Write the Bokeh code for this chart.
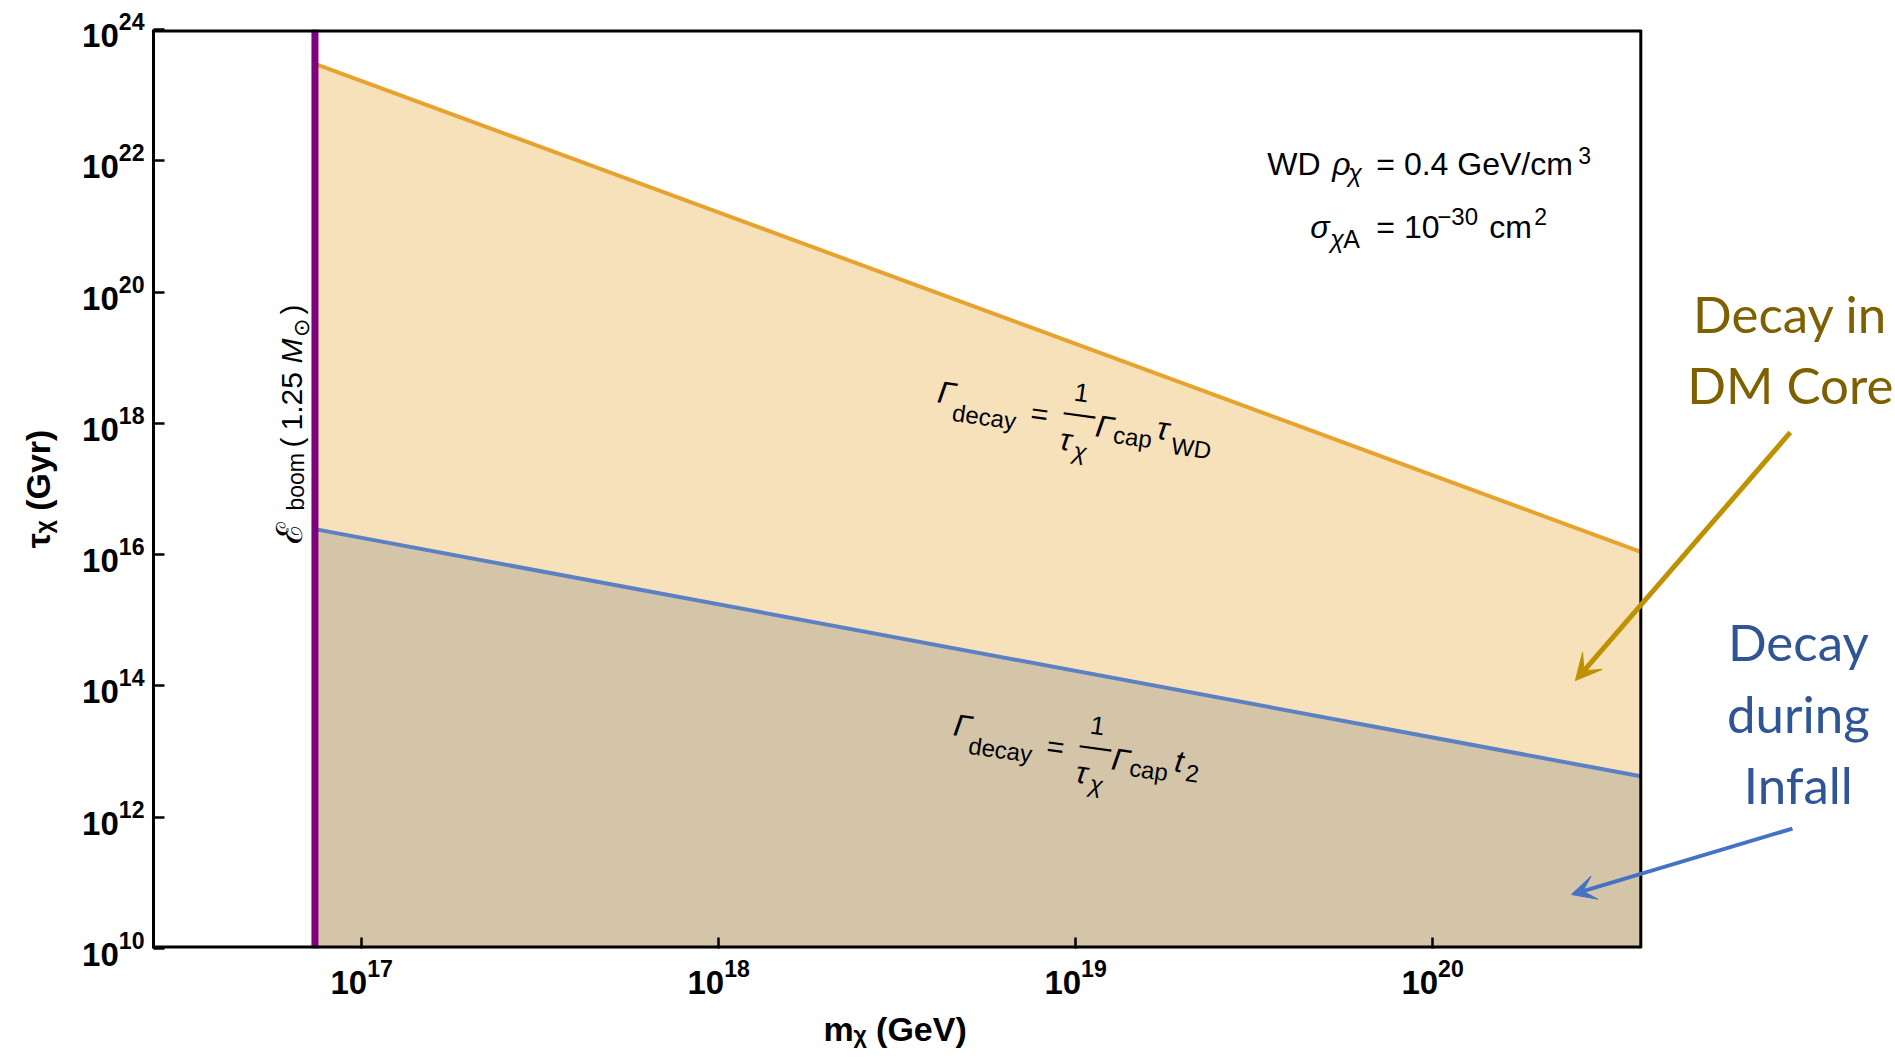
import math
from bokeh.plotting import figure
from bokeh.models import Range1d, Label, Arrow, VeeHead, FixedTicker, Title
from bokeh.embed import file_html
from bokeh.resources import INLINE

# ---------------- data ----------------
m_boom = 7.4e16                      # boom mass line (GeV)
m_edges = [7.4e16, 3.83e20]          # x extent of the shaded regions
tau_core = [3.0e23, 1.1e16]          # decay in DM core boundary (Gyr)
tau_infall = [2.45e16, 4.2e12]       # decay during infall boundary (Gyr)
x_ticks = [1e17, 1e18, 1e19, 1e20]
y_ticks = [1e10, 1e12, 1e14, 1e16, 1e18, 1e20, 1e22, 1e24]
x_box = [2.612e16, 3.83e20]          # extent of the framed plot box
x_view = [2.612e16, 1.98e21]         # visible x extent (box + annotation margin)
y_lim = [1e10, 1e24]

# ---------------- style ----------------
FONT = "Liberation Sans"
C_CORE_FILL = "#F7E1BA"
C_INF_FILL = "#D4C5A9"
C_CORE_LINE = "#E8A22E"
C_INF_LINE = "#5B80C4"
C_BOOM = "#800080"
C_GOLD_TXT = "#7F6000"
C_GOLD_ARR = "#BF9000"
C_BLUE_TXT = "#2F5597"
C_BLUE_ARR = "#4472C4"

p = figure(width=1895, height=1059, x_axis_type="log", y_axis_type="log",
           x_range=Range1d(*x_view), y_range=Range1d(*y_lim),
           output_backend="svg", toolbar_location=None,
           min_border_left=153, min_border_right=0,
           min_border_top=29, min_border_bottom=111)
p.background_fill_color = "white"
p.border_fill_color = "white"
p.outline_line_color = None
p.grid.visible = False

for ax in (p.xaxis, p.yaxis):
    ax.axis_line_width = 3
    ax.axis_line_color = "black"
    ax.major_tick_in = 11
    ax.major_tick_out = 0
    ax.major_tick_line_width = 2.5
    ax.minor_tick_line_color = None
    ax.major_label_text_font = FONT
    ax.major_label_text_font_style = "bold"
    ax.major_label_text_font_size = "33px"
    ax.major_label_text_color = "black"
    ax.axis_label_text_font = FONT
    ax.axis_label_text_font_style = "bold"
    ax.axis_label_text_font_size = "34px"
    ax.axis_label_text_color = "black"
p.xaxis.axis_line_color = None
p.xaxis.ticker = FixedTicker(ticks=x_ticks)
p.yaxis.ticker = FixedTicker(ticks=y_ticks)
p.xaxis.major_label_standoff = 10
p.yaxis.major_label_standoff = 9
p.yaxis.axis_label = "τᵪ (Gyr)"
p.yaxis.axis_label_standoff = 22

# x axis title, aligned under the plot box (not the whole frame)
p.add_layout(Title(text="mᵪ (GeV)", align="left", offset=670,
                   text_font=FONT, text_font_size="34px",
                   text_font_style="bold", text_color="black",
                   standoff=22), "below")

# ---------------- regions and lines ----------------
p.varea(x=m_edges, y1=[y_lim[0]] * 2, y2=tau_core, fill_color=C_CORE_FILL)
p.varea(x=m_edges, y1=[y_lim[0]] * 2, y2=tau_infall, fill_color=C_INF_FILL)
p.line(m_edges, tau_core, line_color=C_CORE_LINE, line_width=4)
p.line(m_edges, tau_infall, line_color=C_INF_LINE, line_width=4)
p.line([m_boom, m_boom], y_lim, line_color=C_BOOM, line_width=7)

# plot box (top, bottom, right edges)
p.line(x_box, [y_lim[1]] * 2, line_color="black", line_width=6)
p.line(x_box, [y_lim[0]] * 2, line_color="black", line_width=6)
p.line([x_box[1]] * 2, y_lim, line_color="black", line_width=3)

MID = {"Liberation Sans": 0.347, "Lato": 0.387}


def piece(text, x, y, dx, dy, size, style="normal", color="black",
          angle=0.0, align="left", font=FONT):
    # (dx, dy): baseline position in screen pixels (dy downwards) from (x, y)
    k = MID.get(font, 0.35) * size
    sx = dx - k * math.sin(angle)
    sy = dy - k * math.cos(angle)
    p.add_layout(Label(x=x, y=y, x_offset=sx, y_offset=-sy, text=text,
                       text_font=font, text_font_size=f"{size}px",
                       text_font_style=style, text_color=color,
                       text_align=align, text_baseline="middle",
                       angle=angle))


# ---------------- formula labels ----------------
ang = -8 * math.pi / 180
common = [("Γ", 0, 0, 31, "italic", "left"),
          ("decay", 15, 18, 24, "normal", "left"),
          ("=", 93, 20, 30, "normal", "left"),
          ("1", 144, -1, 26, "normal", "center"),
          ("—", 142, 21, 32, "normal", "center"),
          ("τ", 122, 47, 31, "italic", "left"),
          ("χ", 136, 56, 24, "italic", "left"),
          ("Γ", 158, 34, 31, "italic", "left"),
          ("cap", 176, 40, 24, "normal", "left")]
upper = common + [("τ", 219, 36, 32, "italic", "left"),
                  ("WD", 234, 51, 24, "normal", "left")]
lower = common + [("t", 221, 36, 31, "italic", "left"),
                  ("2", 232, 45, 24, "normal", "left")]
for pcs, (lx, ly) in ((upper, (18.610, 18.317)), (lower, (18.655, 13.244))):
    for t, dx, dy, s, st, al in pcs:
        piece(t, 10 ** lx, 10 ** ly, dx, dy, s, st, angle=ang, align=al)

# ---------------- WD parameters ----------------
wx, wy = 10 ** 19.537, 10 ** 21.776
for t, dx, dy, s, st in [("WD", 0, 0, 32, "normal"),
                         ("ρ", 65, 0, 32, "italic"),
                         ("χ", 81, 6, 25, "italic"),
                         ("= 0.4 GeV/cm", 109, 0, 32, "normal"),
                         ("3", 311, -12, 23, "normal"),
                         ("σ", 43, 63, 32, "italic"),
                         ("χ", 63, 72, 25, "italic"),
                         ("A", 76, 72, 25, "normal"),
                         ("= 10", 109, 63, 32, "normal"),
                         ("−30", 170, 49, 24, "normal"),
                         ("cm", 222, 63, 32, "normal"),
                         ("2", 267, 49, 23, "normal")]:
    piece(t, wx, wy, dx, dy, s, st)

# ---------------- boom label (vertical) ----------------
by = 10 ** 16.169
vert = math.pi / 2
for t, dx, dy, s, st in [("ℰ", -13, 0, 36, "normal"),
                         ("boom", -11, -33, 23, "normal"),
                         ("(", -13, -96, 30, "normal"),
                         ("1.25", -13, -113, 30, "normal"),
                         ("M", -13, -180, 30, "italic"),
                         ("⊙", -6, -207, 22, "normal"),
                         (")", -13, -229, 30, "normal")]:
    piece(t, m_boom, by, dx, dy, s, st, angle=vert)

# ---------------- side annotations ----------------
ax_, ay_ = 10 ** 21.002, 10 ** 19.369
for t, dx, dy, c in [("Decay in", 0, 0, C_GOLD_TXT),
                     ("DM Core", 0, 71, C_GOLD_TXT),
                     ("Decay", 8, 328, C_BLUE_TXT),
                     ("during", 8, 400, C_BLUE_TXT),
                     ("Infall", 8, 471, C_BLUE_TXT)]:
    piece(t, ax_, ay_, dx, dy, 51, "normal", color=c, align="center", font="Lato")

p.add_layout(Arrow(x_start=10 ** 21.002, y_start=10 ** 17.861,
                   x_end=10 ** 20.400, y_end=10 ** 14.082,
                   line_color=C_GOLD_ARR, line_width=5,
                   end=VeeHead(size=26, fill_color=C_GOLD_ARR, line_color=C_GOLD_ARR)))
p.add_layout(Arrow(x_start=10 ** 21.008, y_start=10 ** 11.827,
                   x_end=10 ** 20.389, y_end=10 ** 10.822,
                   line_color=C_BLUE_ARR, line_width=4,
                   end=VeeHead(size=24, fill_color=C_BLUE_ARR, line_color=C_BLUE_ARR)))

open("out.html", "w").write(file_html(p, INLINE))
